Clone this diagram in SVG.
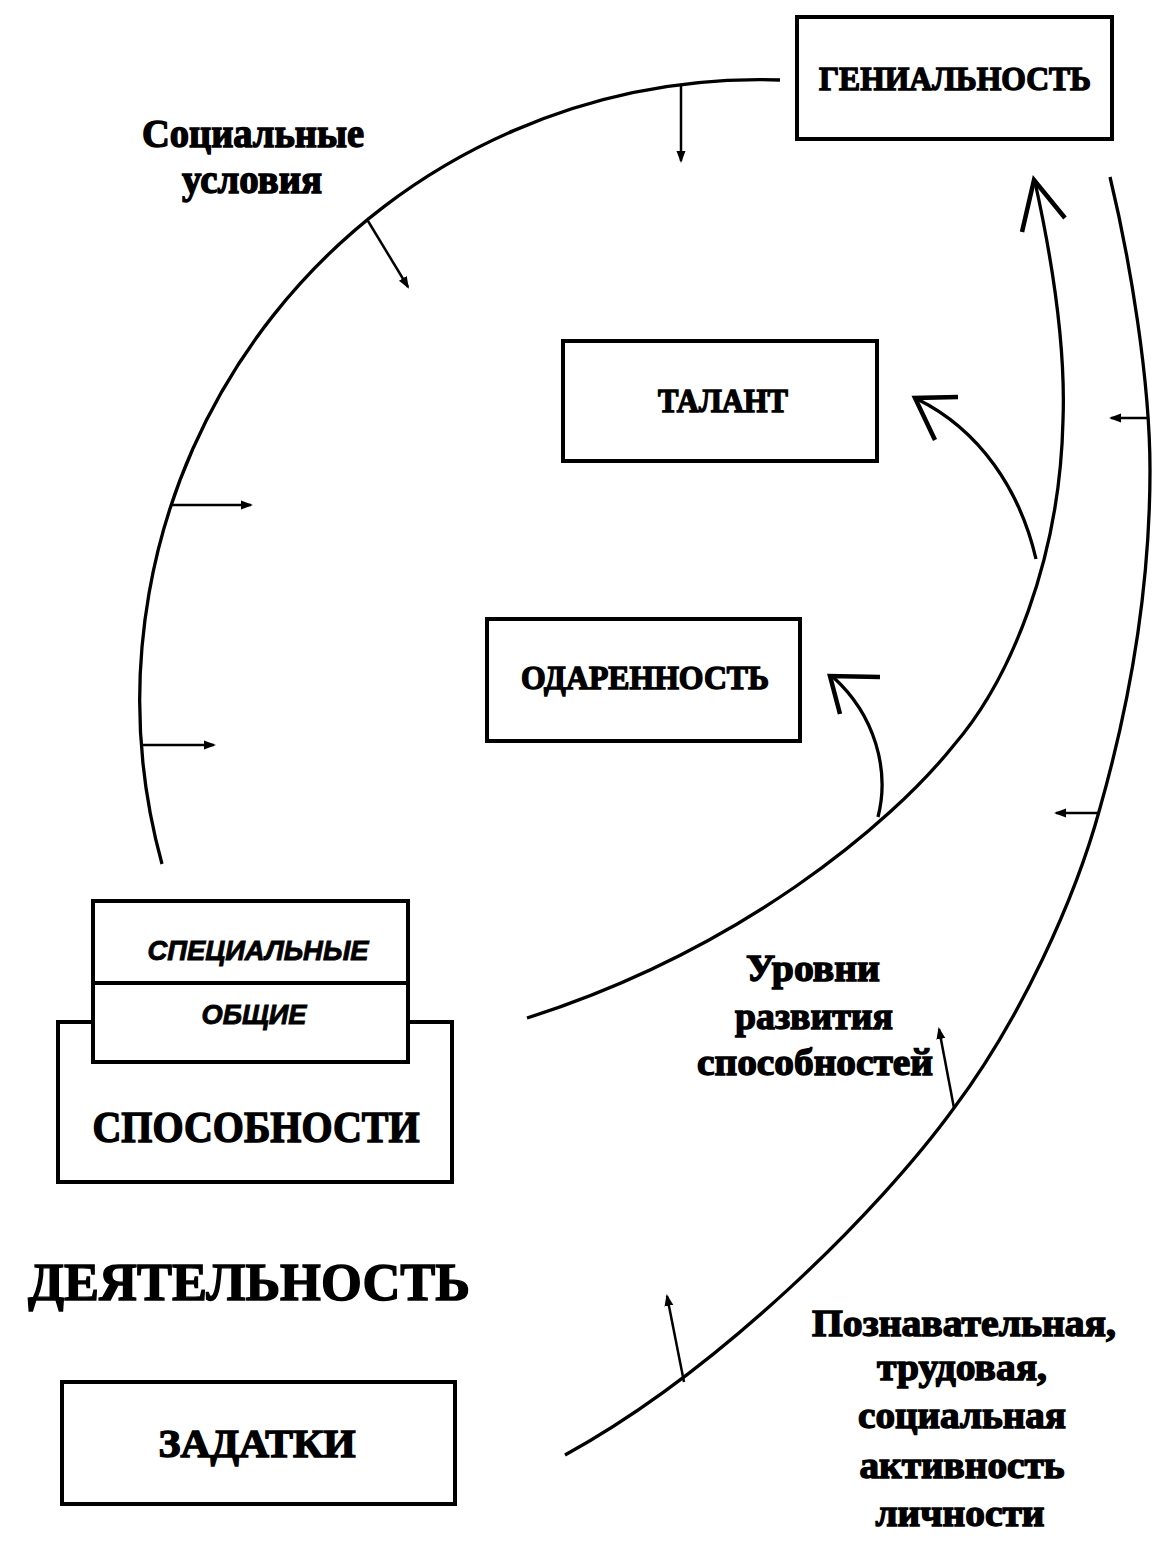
<svg xmlns="http://www.w3.org/2000/svg" width="1168" height="1553" viewBox="0 0 1168 1553">
<defs>
<marker id="ah" markerUnits="userSpaceOnUse" markerWidth="13" markerHeight="11" refX="10" refY="5.5" orient="auto"><path d="M0,1 L12,5.5 L0,10 z" fill="#000"/></marker>
</defs>
<style>
.box{fill:#fff;stroke:#000;stroke-width:4}
.curve{fill:none;stroke:#000;stroke-width:3.3}
.tick{fill:none;stroke:#000;stroke-width:2.5;marker-end:url(#ah)}
.head{fill:none;stroke:#000;stroke-width:4.5;stroke-linejoin:miter}
.serif{font-family:"Liberation Serif","Times New Roman",serif;font-weight:bold;fill:#000;text-anchor:middle;stroke:#000;stroke-width:1.4}
.sans{font-family:"Liberation Sans",Arial,sans-serif;font-weight:bold;font-style:italic;fill:#000;text-anchor:middle;stroke:#000;stroke-width:0.9}
</style>
<rect width="1168" height="1553" fill="#fff"/>

<g id="connectors">
  <path class="curve" d="M780,80 A620,620 0 0 0 162,864"/>
  <path class="curve" d="M1035,182 C1050,250 1066,340 1063,420 C1060,560 1010,680 954,745 C890,825 740,950 527,1018"/>
  <polyline class="head" points="1022,232 1034,180 1065,218"/>
  <path class="curve" d="M1036,559 C1020,490 980,430 917,399"/>
  <polyline class="head" points="958,397 915,398 935,440"/>
  <path class="curve" d="M878,817 C890,770 875,715 833,677"/>
  <polyline class="head" points="880,677 830,676 840,714"/>
  <path class="curve" d="M1110,177 C1130,260 1150,380 1150,470 C1150,600 1125,720 1100,808 C1075,900 1020,1020 954,1108 C880,1210 720,1370 565,1455"/>
  <path class="tick" d="M681,85 L681,161"/>
  <path class="tick" d="M368,221 L408,287"/>
  <path class="tick" d="M171,505 L251,505"/>
  <path class="tick" d="M143,745 L214,745"/>
  <path class="tick" d="M1149,418 L1111,418"/>
  <path class="tick" d="M1099,813 L1056,813"/>
  <path class="tick" d="M954,1108 L939,1029"/>
  <path class="tick" d="M684,1382 L667,1296"/>
</g>

<g id="genius">
  <rect class="box" x="797" y="17" width="315" height="122"/>
  <text class="serif" x="955" y="90" font-size="33" textLength="272" lengthAdjust="spacingAndGlyphs">ГЕНИАЛЬНОСТЬ</text>
</g>

<g id="talent">
  <rect class="box" x="563" y="341" width="314" height="120"/>
  <text class="serif" x="723" y="412" font-size="33" textLength="130" lengthAdjust="spacingAndGlyphs">ТАЛАНТ</text>
</g>

<g id="giftedness">
  <rect class="box" x="487" y="619" width="313" height="122"/>
  <text class="serif" x="645" y="689" font-size="33" textLength="248" lengthAdjust="spacingAndGlyphs">ОДАРЕННОСТЬ</text>
</g>

<g id="abilities">
  <rect class="box" x="58" y="1022" width="394" height="160"/>
  <text class="serif" x="256" y="1142" font-size="44" textLength="327" lengthAdjust="spacingAndGlyphs">СПОСОБНОСТИ</text>
</g>

<g id="abilities-kinds">
  <rect class="box" x="93" y="901" width="315" height="161"/>
  <line x1="93" y1="983" x2="408" y2="983" stroke="#000" stroke-width="4"/>
  <text class="sans" x="258" y="960" font-size="28" textLength="221" lengthAdjust="spacingAndGlyphs">СПЕЦИАЛЬНЫЕ</text>
  <text class="sans" x="254" y="1024" font-size="28" textLength="105" lengthAdjust="spacingAndGlyphs">ОБЩИЕ</text>
</g>

<g id="activity">
  <text class="serif" x="249" y="1300" font-size="53" textLength="442" lengthAdjust="spacingAndGlyphs">ДЕЯТЕЛЬНОСТЬ</text>
</g>

<g id="inclinations">
  <rect class="box" x="62" y="1382" width="393" height="122"/>
  <text class="serif" x="257" y="1457" font-size="40" textLength="197" lengthAdjust="spacingAndGlyphs">ЗАДАТКИ</text>
</g>

<g id="social-conditions">
  <text class="serif" x="253" y="147" font-size="40" textLength="222" lengthAdjust="spacingAndGlyphs">Социальные</text>
  <text class="serif" x="252" y="193" font-size="40" textLength="140" lengthAdjust="spacingAndGlyphs">условия</text>
</g>

<g id="levels">
  <text class="serif" x="813" y="981" font-size="38" textLength="134" lengthAdjust="spacingAndGlyphs">Уровни</text>
  <text class="serif" x="814" y="1029" font-size="38" textLength="158" lengthAdjust="spacingAndGlyphs">развития</text>
  <text class="serif" x="815" y="1075" font-size="38" textLength="236" lengthAdjust="spacingAndGlyphs">способностей</text>
</g>

<g id="personal-activity">
  <text class="serif" x="964" y="1336" font-size="38" textLength="304" lengthAdjust="spacingAndGlyphs">Познавательная,</text>
  <text class="serif" x="962" y="1380" font-size="38" textLength="170" lengthAdjust="spacingAndGlyphs">трудовая,</text>
  <text class="serif" x="962" y="1428" font-size="38" textLength="208" lengthAdjust="spacingAndGlyphs">социальная</text>
  <text class="serif" x="962" y="1478" font-size="38" textLength="205" lengthAdjust="spacingAndGlyphs">активность</text>
  <text class="serif" x="960" y="1526" font-size="38" textLength="169" lengthAdjust="spacingAndGlyphs">личности</text>
</g>
</svg>
